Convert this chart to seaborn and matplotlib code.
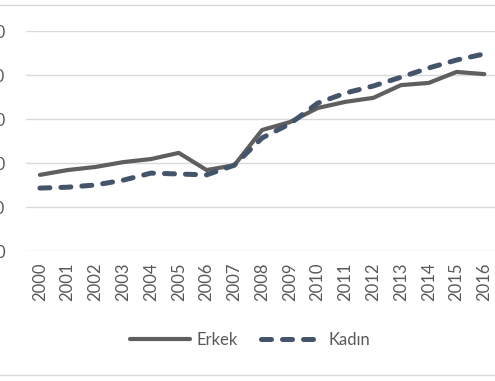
import numpy as np
import pandas as pd
import matplotlib
matplotlib.use('Agg')
import matplotlib.pyplot as plt
import seaborn as sns
from matplotlib.patches import Rectangle

# datos
anios = list(range(2000, 2017))
erkek = [17.3, 18.4, 19.1, 20.2, 20.9, 22.3, 18.4, 19.5, 27.5, 29.3,
         32.5, 33.9, 34.8, 37.7, 38.2, 40.7, 40.2]
kadin = [14.3, 14.5, 15.0, 16.1, 17.7, 17.5, 17.3, 19.5, 25.7, 28.9,
         33.6, 35.9, 37.5, 39.5, 41.6, 43.4, 44.8]
y_ticks = [0, 10, 20, 30, 40, 50]

df = pd.DataFrame({'anio': anios * 2,
                   'valor': erkek + kadin,
                   'grupo': ['Erkek'] * len(anios) + ['Kadın'] * len(anios)})

sns.set_style('white')
plt.rcParams['font.family'] = ['Lato', 'DejaVu Sans']

gris = '#595959'
colores = {'Erkek': '#5f5f5f', 'Kadın': '#44546a'}
grosor = {'Erkek': 3, 'Kadın': 3.6}

fig = plt.figure(figsize=(4.95, 3.81), dpi=100)
ax = fig.add_axes([26/495, 130/381, 500/495, 220/381])

sns.lineplot(data=df, x='anio', y='valor', hue='grupo', style='grupo',
             palette=colores, dashes={'Erkek': '', 'Kadın': (2.0, 2.2)},
             linewidth=3, ax=ax)

ax.set_xlim(1999.5, 2017.5)
ax.set_ylim(0, 50)
ax.set_xticks(anios)
ax.set_xticklabels([str(a) for a in anios], rotation=90)
ax.set_yticks(y_ticks)
ax.set_xlabel('')
ax.set_ylabel('')
ax.grid(axis='y', color='#d9d9d9', linewidth=1)
ax.grid(axis='x', visible=False)
for s in ax.spines.values():
    s.set_visible(False)
ax.tick_params(axis='x', length=0, pad=8, labelsize=12, labelcolor=gris)
ax.tick_params(axis='y', length=0, pad=15, labelsize=12, labelcolor=gris)

# leyenda abajo en el centro
handles, labels = ax.get_legend_handles_labels()
ax.get_legend().remove()
for l in ax.get_lines() + handles:
    lab = l.get_label()
    if lab.startswith('_'):
        continue
    l.set_dash_capstyle('round')
    l.set_solid_capstyle('round')
# grosor por grupo (lineas en el orden de hue)
for l, g in zip(ax.get_lines()[:2], ['Erkek', 'Kadın']):
    l.set_linewidth(grosor[g])
    l.set_dash_capstyle('round')
for h, g in zip(handles, labels):
    h.set_linewidth(grosor[g])

leg = fig.legend(handles, labels, loc='center', bbox_to_anchor=(250/495, 1 - 340/381),
                 ncol=2, frameon=False, fontsize=12, handlelength=3.6,
                 handletextpad=0.4, columnspacing=1.4)
for t in leg.get_texts():
    t.set_color(gris)
for h in leg.legend_handles:
    h.set_dash_capstyle('round')

# borde del area del grafico (cortado)
fig.add_artist(Rectangle((-0.05, 6/381), 1.1, 370/381, transform=fig.transFigure,
                         fill=False, edgecolor='#d9d9d9', linewidth=1))

fig.savefig('out.png', dpi=100)
